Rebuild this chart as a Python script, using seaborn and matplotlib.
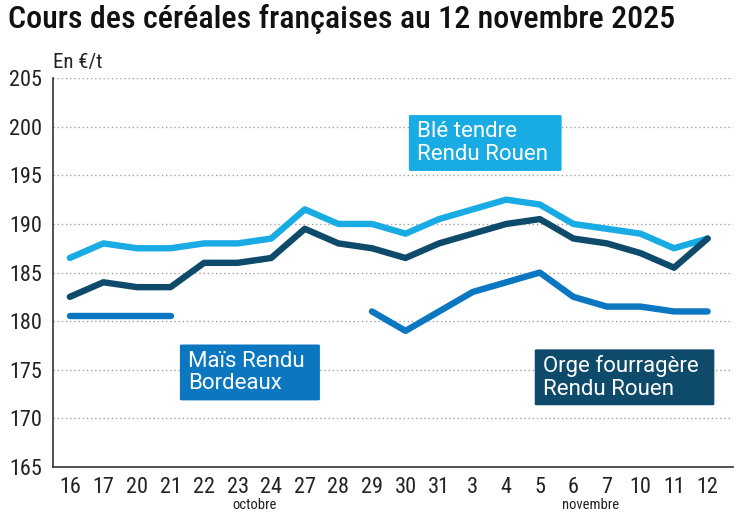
import numpy as np
import pandas as pd
import matplotlib
matplotlib.use("Agg")
import matplotlib.pyplot as plt
import matplotlib.transforms as mtransforms
from matplotlib.patches import FancyBboxPatch
from matplotlib import font_manager
import seaborn as sns

# Data
days = ["16", "17", "20", "21", "22", "23", "24", "27", "28", "29", "30", "31",
        "3", "4", "5", "6", "7", "10", "11", "12"]
months = ["octobre", "novembre"]
ble = [186.5, 188, 187.5, 187.5, 188, 188, 188.5, 191.5, 190, 190, 189, 190.5,
       191.5, 192.5, 192, 190, 189.5, 189, 187.5, 188.5]
orge = [182.5, 184, 183.5, 183.5, 186, 186, 186.5, 189.5, 188, 187.5, 186.5, 188,
        189, 190, 190.5, 188.5, 188, 187, 185.5, 188.5]
mais = [180.5, 180.5, 180.5, 180.5, np.nan, np.nan, np.nan, np.nan, np.nan, 181, 179, 181,
        183, 184, 185, 182.5, 181.5, 181.5, 181, 181]
series = ["Blé tendre\nRendu Rouen", "Maïs Rendu\nBordeaux", "Orge fourragère\nRendu Rouen"]
colors = ["#19abe3", "#0a77c0", "#0e4a6a"]

sns.set_style("white")
names = [f.name for f in font_manager.fontManager.ttflist]
fam = "Roboto"
for cand in ["Roboto Condensed", "Liberation Sans Narrow"]:
    if cand in names:
        fam = cand
        break
plt.rcParams["font.family"] = [fam, "DejaVu Sans"]

# long-form table, split the maize series where data is missing
rows = []
for name, vals in zip(series, [ble, mais, orge]):
    seg = 0
    for i, v in enumerate(vals):
        if np.isnan(v):
            seg += 1
            continue
        rows.append({"pos": i, "val": v, "serie": name, "seg": f"{name}-{seg}"})
df = pd.DataFrame(rows)

fig = plt.figure(figsize=(7.47, 5.13), dpi=100)
ax = fig.add_axes([0.071, 0.0897, 0.91, 0.758])

sns.lineplot(data=df, x="pos", y="val", hue="serie", units="seg", estimator=None,
             palette=dict(zip(series, colors)), linewidth=4.6, legend=False, ax=ax,
             solid_capstyle="round", solid_joinstyle="round")

ax.set_ylim(165, 205)
ax.set_xlim(-0.5, 19.75)
ax.set_yticks(range(165, 206, 5))
ax.set_xticks(range(len(days)))
ax.set_xticklabels(days)
ax.set_xlabel("")
ax.set_ylabel("")
ax.tick_params(axis="both", length=0, labelsize=16, colors="#222222")
ax.tick_params(axis="x", pad=7.5)
ax.tick_params(axis="y", pad=8)

for y in range(170, 206, 5):
    ax.axhline(y, color="#a0a0a0", lw=1.0, ls=(0, (1, 2)), zorder=0)
for s in ["top", "right"]:
    ax.spines[s].set_visible(False)
ax.spines["left"].set_color("#333333")
ax.spines["bottom"].set_color("#333333")
ax.spines["left"].set_linewidth(1.2)
ax.spines["bottom"].set_linewidth(1.2)

# month labels under the day ticks (kept just inside the bottom edge)
trans = mtransforms.blended_transform_factory(ax.transData, fig.transFigure)
ax.text(5.5, 0.001, months[0], transform=trans, ha="center", va="bottom",
        fontsize=10.5, color="#222222")
ax.text(15.5, 0.001, months[1], transform=trans, ha="center", va="bottom",
        fontsize=10.5, color="#222222")

# series label boxes
boxes = [(10.1, 201.2, 4.55, 5.75), (3.28, 177.6, 4.17, 5.75), (13.85, 177.1, 5.35, 5.75)]
for (x0, ytop, w, h), name, c in zip(boxes, series, colors):
    ax.add_patch(FancyBboxPatch((x0, ytop - h), w, h,
                                boxstyle="round,pad=0,rounding_size=0.08",
                                fc=c, ec="none", zorder=5))
    ax.text(x0 + 0.24, ytop - h / 2, name, ha="left", va="center", color="white",
            fontsize=16, linespacing=1.1, zorder=6, family=["Roboto", "DejaVu Sans"])

fig.text(0.011, 0.945, "Cours des céréales françaises au 12 novembre 2025",
         fontsize=23, fontweight="medium", color="#111111", ha="left", va="baseline")
fig.text(0.071, 0.868, "En €/t", fontsize=15, color="#222222", ha="left", va="baseline")

fig.savefig("out.png", dpi=100)
